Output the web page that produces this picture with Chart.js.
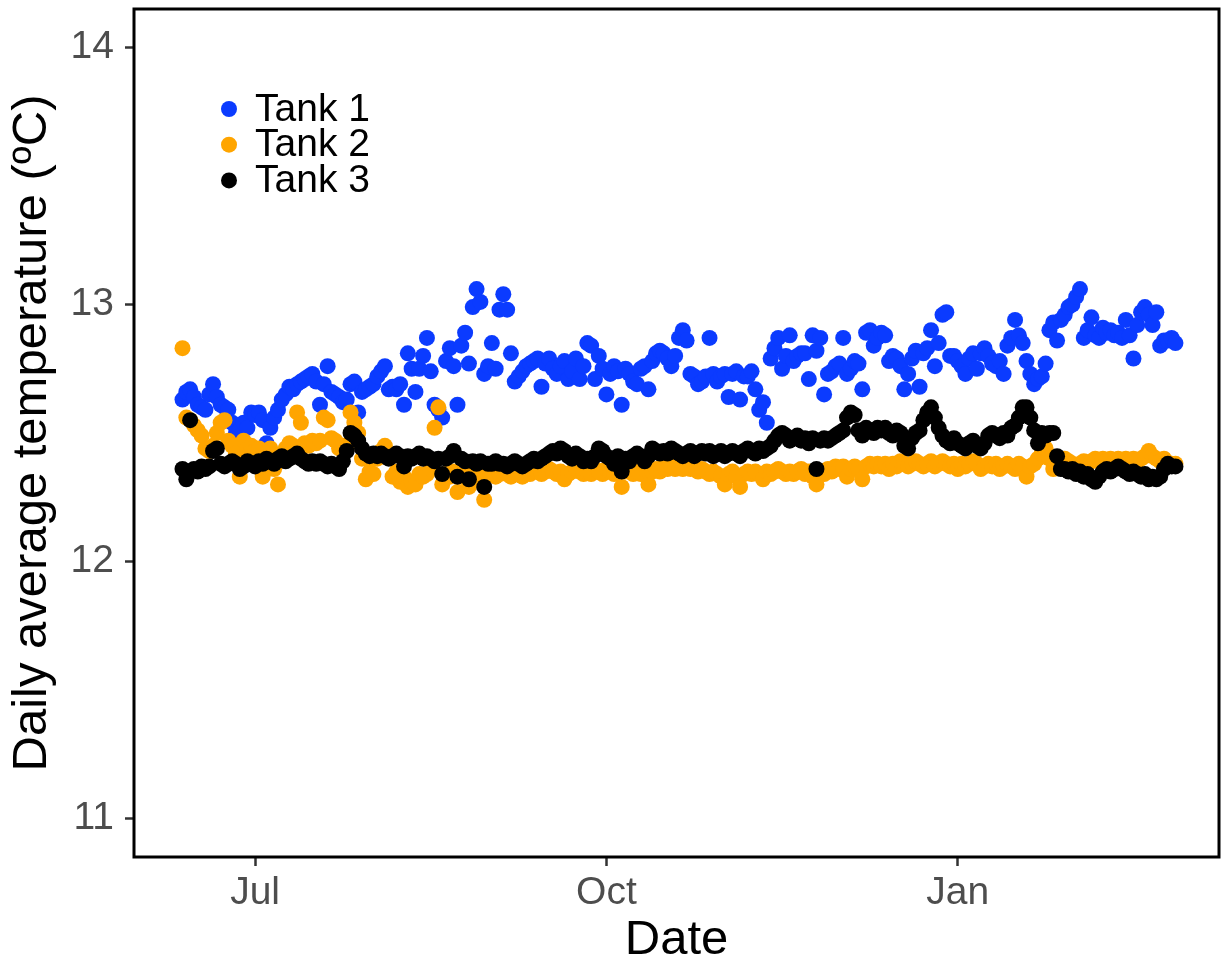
<!DOCTYPE html>
<html>
<head>
<meta charset="utf-8">
<title>Daily average temperature</title>
<script src="https://cdn.jsdelivr.net/npm/chart.js@4.4.1/dist/chart.umd.min.js"></script>
<style>
  html, body { margin: 0; padding: 0; background: #ffffff; }
  canvas { display: block; }
</style>
</head>
<body>
<canvas id="chart" width="1221" height="967"></canvas>
<script>
// First day of the record; each array below holds one value per day from here.
const firstDate = '2022-06-12';

const tank1 = [
  12.63,12.66,12.67,12.64,12.61,12.60,12.59,12.65,12.69,12.64,
  12.61,12.60,12.59,12.54,12.50,12.51,12.54,12.52,12.58,12.57,
  12.58,12.55,12.46,12.52,12.56,12.59,12.63,12.65,12.68,12.67,
  12.69,12.70,12.71,12.72,12.73,12.70,12.61,12.69,12.76,12.66,
  12.65,12.64,12.62,12.63,12.69,12.70,12.58,12.66,12.67,12.68,
  12.69,12.72,12.74,12.76,12.67,12.68,12.67,12.69,12.61,12.81,
  12.75,12.66,12.75,12.80,12.87,12.74,12.61,12.59,12.56,12.78,
  12.83,12.76,12.61,12.84,12.89,12.77,12.99,13.06,13.01,12.73,
  12.76,12.85,12.75,12.98,13.04,12.98,12.81,12.70,12.72,12.74,
  12.76,12.77,12.78,12.79,12.68,12.77,12.79,12.75,12.73,12.76,
  12.78,12.71,12.74,12.79,12.71,12.76,12.85,12.84,12.71,12.80,
  12.75,12.65,12.73,12.76,12.74,12.61,12.75,12.73,12.70,12.69,
  12.75,12.76,12.67,12.78,12.81,12.82,12.81,12.79,12.76,12.80,
  12.87,12.90,12.86,12.73,12.72,12.69,12.70,12.72,12.87,12.73,
  12.70,12.72,12.73,12.64,12.73,12.74,12.63,12.72,12.72,12.74,
  12.67,12.59,12.62,12.54,12.79,12.83,12.87,12.75,12.80,12.88,
  12.78,12.80,12.81,12.81,12.71,12.88,12.82,12.87,12.65,12.73,
  12.74,12.76,12.77,12.87,12.73,12.75,12.78,12.77,12.67,12.89,
  12.90,12.84,12.87,12.89,12.88,12.78,12.80,12.79,12.76,12.67,
  12.73,12.79,12.82,12.68,12.81,12.83,12.90,12.76,12.85,12.96,
  12.97,12.80,12.80,12.78,12.76,12.73,12.79,12.81,12.75,12.81,
  12.83,12.80,12.77,12.76,12.78,12.73,12.84,12.87,12.94,12.88,
  12.85,12.78,12.73,12.69,12.71,12.72,12.77,12.90,12.93,12.86,
  12.94,12.96,12.99,13.00,13.03,13.06,12.87,12.90,12.95,12.88,
  12.87,12.91,12.89,12.90,12.88,12.89,12.87,12.94,12.88,12.79,
  12.92,12.97,12.99,12.96,12.92,12.97,12.84,12.86,12.86,12.87,
  12.85
];

const tank2 = [
  12.83,12.56,12.55,12.53,12.51,12.49,12.44,12.43,12.45,12.50,
  12.54,12.55,12.47,12.45,12.42,12.33,12.47,12.44,12.45,12.43,
  12.44,12.33,12.42,12.44,12.36,12.30,12.40,12.44,12.46,12.45,
  12.58,12.54,12.46,12.45,12.47,12.46,12.47,12.56,12.55,12.48,
  12.47,12.44,12.45,12.44,12.58,12.54,12.50,12.40,12.32,12.35,
  12.34,12.40,12.43,12.45,12.41,12.33,12.35,12.31,12.33,12.29,
  12.31,12.30,12.34,12.33,12.34,12.36,12.52,12.60,12.30,12.34,
  12.33,12.35,12.27,12.33,12.34,12.29,12.33,12.34,12.32,12.24,
  12.34,12.35,12.33,12.34,12.35,12.34,12.33,12.35,12.34,12.33,
  12.35,12.34,12.36,12.35,12.34,12.35,12.36,12.35,12.34,12.35,
  12.32,12.34,12.35,12.36,12.35,12.34,12.35,12.34,12.36,12.35,
  12.34,12.36,12.35,12.34,12.35,12.29,12.35,12.36,12.34,12.35,
  12.34,12.36,12.30,12.35,12.36,12.35,12.37,12.36,12.37,12.36,
  12.37,12.36,12.37,12.36,12.37,12.35,12.36,12.35,12.34,12.35,
  12.34,12.33,12.30,12.34,12.35,12.33,12.29,12.34,12.35,12.34,
  12.35,12.34,12.32,12.35,12.34,12.35,12.36,12.35,12.34,12.35,
  12.34,12.35,12.36,12.34,12.35,12.33,12.30,12.35,12.34,12.36,
  12.35,12.37,12.36,12.37,12.33,12.36,12.37,12.36,12.32,12.37,
  12.38,12.37,12.38,12.37,12.38,12.36,12.38,12.37,12.39,12.38,
  12.37,12.38,12.39,12.38,12.37,12.38,12.39,12.37,12.38,12.39,
  12.38,12.37,12.38,12.36,12.38,12.37,12.38,12.39,12.38,12.36,
  12.37,12.38,12.37,12.38,12.36,12.37,12.38,12.37,12.36,12.38,
  12.37,12.33,12.37,12.38,12.40,12.42,12.44,12.40,12.36,12.38,
  12.39,12.40,12.39,12.38,12.37,12.38,12.39,12.38,12.39,12.40,
  12.39,12.40,12.39,12.40,12.39,12.40,12.39,12.40,12.39,12.40,
  12.39,12.40,12.41,12.43,12.41,12.40,12.39,12.40,12.38,12.38,
  12.38
];

const tank3 = [
  12.36,12.32,12.55,12.36,12.35,12.37,12.36,12.37,12.43,12.44,
  12.38,12.37,12.38,12.39,12.38,12.36,12.37,12.39,12.38,12.37,
  12.39,12.38,12.40,12.39,12.38,12.40,12.41,12.39,12.40,12.41,
  12.42,12.40,12.39,12.38,12.39,12.38,12.39,12.38,12.37,12.38,
  12.37,12.36,12.39,12.43,12.50,12.49,12.47,12.44,12.42,12.41,
  12.42,12.41,12.42,12.41,12.40,12.41,12.42,12.41,12.37,12.41,
  12.40,12.41,12.42,12.40,12.41,12.40,12.39,12.40,12.34,12.40,
  12.41,12.43,12.33,12.40,12.39,12.32,12.39,12.38,12.39,12.29,
  12.38,12.38,12.39,12.38,12.38,12.37,12.38,12.39,12.38,12.37,
  12.38,12.39,12.40,12.39,12.40,12.41,12.42,12.43,12.42,12.44,
  12.43,12.41,12.40,12.42,12.41,12.39,12.40,12.39,12.41,12.44,
  12.43,12.41,12.40,12.38,12.41,12.35,12.40,12.39,12.41,12.42,
  12.41,12.39,12.41,12.44,12.43,12.42,12.43,12.42,12.44,12.43,
  12.42,12.41,12.42,12.43,12.41,12.42,12.43,12.42,12.43,12.41,
  12.42,12.43,12.41,12.42,12.43,12.42,12.41,12.43,12.44,12.43,
  12.42,12.44,12.43,12.44,12.45,12.47,12.49,12.50,12.49,12.47,
  12.48,12.49,12.47,12.48,12.46,12.48,12.36,12.47,12.48,12.47,
  12.48,12.49,12.50,12.51,12.56,12.58,12.57,12.51,12.49,12.52,
  12.51,12.50,12.52,12.51,12.52,12.50,12.49,12.51,12.50,12.45,
  12.44,12.48,12.50,12.51,12.55,12.58,12.60,12.56,12.52,12.49,
  12.47,12.46,12.48,12.46,12.45,12.44,12.46,12.47,12.45,12.44,
  12.46,12.49,12.50,12.49,12.48,12.50,12.49,12.52,12.53,12.56,
  12.60,12.60,12.56,12.51,12.46,12.50,12.49,12.50,12.50,12.41,
  12.36,12.36,12.35,12.36,12.34,12.35,12.33,12.34,12.32,12.31,
  12.33,12.35,12.36,12.35,12.36,12.37,12.36,12.35,12.34,12.35,
  12.34,12.33,12.34,12.32,12.33,12.32,12.33,12.36,12.38,12.37,
  12.37
];

const seriesNames  = ['Tank 1', 'Tank 2', 'Tank 3'];
const seriesColors = ['#0B3BFF', '#FFA500', '#000000'];

const tickDates  = ['2022-07-01', '2022-10-01', '2023-01-01'];
const tickLabels = ['Jul', 'Oct', 'Jan'];
const yTicks     = [11, 12, 13, 14];

// Dates are placed on a linear axis as day numbers.
const DAY_MS = 86400000;
const dayNum = s => Date.parse(s + 'T00:00:00Z') / DAY_MS;
const day0 = dayNum(firstDate);
const toPoints = arr => arr.map((v, i) => ({ x: day0 + i, y: v }));

const xTickValues = tickDates.map(dayNum);
const lastDay = day0 + tank1.length - 1;

const FONT = '"Liberation Sans", Arial, Helvetica, sans-serif';
Chart.defaults.font.family = FONT;

// Black box around the panel, drawn over the points.
const panelFrame = {
  id: 'panelFrame',
  afterDatasetsDraw(chart) {
    const { ctx, chartArea: a } = chart;
    ctx.save();
    ctx.strokeStyle = '#000000';
    ctx.lineWidth = 3;
    ctx.strokeRect(a.left, a.top, a.right - a.left, a.bottom - a.top);
    ctx.restore();
  }
};

// Legend placed inside the panel, upper left.
const insetLegend = {
  id: 'insetLegend',
  afterDraw(chart) {
    const { ctx, chartArea: a } = chart;
    ctx.save();
    ctx.font = '39px ' + FONT;
    ctx.textBaseline = 'middle';
    ctx.textAlign = 'left';
    chart.data.datasets.forEach((ds, i) => {
      const cy = a.top + 100 + i * 35.7;
      const cx = a.left + 95;
      ctx.beginPath();
      ctx.arc(cx, cy, 8, 0, Math.PI * 2);
      ctx.fillStyle = ds.backgroundColor;
      ctx.fill();
      ctx.fillStyle = '#000000';
      ctx.fillText(ds.label, cx + 26, cy + 1);
    });
    ctx.restore();
  }
};

const datasets = [tank1, tank2, tank3].map((arr, i) => ({
  label: seriesNames[i],
  data: toPoints(arr),
  backgroundColor: seriesColors[i],
  borderColor: seriesColors[i],
  pointRadius: 8,
  pointBorderWidth: 0,
  pointHoverRadius: 8,
  showLine: false,
  order: 3 - i
}));

new Chart(document.getElementById('chart'), {
  type: 'scatter',
  data: { datasets },
  plugins: [panelFrame, insetLegend],
  options: {
    responsive: false,
    animation: false,
    events: [],
    layout: { autoPadding: false, padding: { top: 9, right: 2, left: 0, bottom: 0 } },
    plugins: { legend: { display: false }, tooltip: { enabled: false } },
    scales: {
      x: {
        type: 'linear',
        min: day0 - 12.7,
        max: lastDay + 11.4,
        afterBuildTicks(scale) { scale.ticks = xTickValues.map(v => ({ value: v })); },
        afterFit(scale) {
          scale.height = 110;
          scale.paddingLeft = 0;
          scale.paddingRight = 0;
        },
        ticks: {
          autoSkip: false,
          maxRotation: 0,
          padding: 8,
          color: '#4D4D4D',
          font: { size: 39, lineHeight: 1 },
          callback: (v) => tickLabels[xTickValues.indexOf(v)]
        },
        grid: { drawOnChartArea: false, drawTicks: true, tickLength: 9, tickColor: '#333333', tickWidth: 2.5 },
        border: { display: false },
        title: {
          display: true,
          text: 'Date',
          color: '#000000',
          font: { size: 49, lineHeight: 1 },
          padding: { top: 0, bottom: 2 }
        }
      },
      y: {
        type: 'linear',
        min: 10.85,
        max: 14.15,
        afterBuildTicks(scale) { scale.ticks = yTicks.map(v => ({ value: v })); },
        afterFit(scale) {
          scale.width = 134;
          scale.paddingTop = 0;
          scale.paddingBottom = 0;
        },
        ticks: {
          padding: 11,
          color: '#4D4D4D',
          font: { size: 39, lineHeight: 1 },
          callback: (v) => String(v)
        },
        grid: { drawOnChartArea: false, drawTicks: true, tickLength: 9, tickColor: '#333333', tickWidth: 2.5 },
        border: { display: false },
        title: {
          display: true,
          text: 'Daily average temperature (ºC)',
          color: '#000000',
          font: { size: 49, lineHeight: 1 },
          padding: { top: 8, bottom: 0 }
        }
      }
    }
  }
});
</script>
</body>
</html>
